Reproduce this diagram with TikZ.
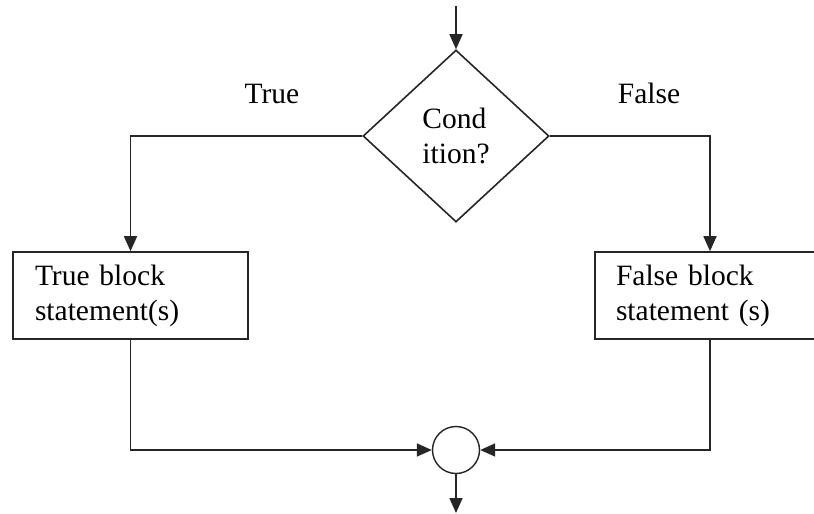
\documentclass[tikz,border=0pt]{standalone}
\usepackage{fontspec}
\setmainfont{Liberation Serif}
\usetikzlibrary{shapes.geometric,arrows.meta}
\begin{document}
\begin{tikzpicture}[x=1pt,y=-1pt,
  txt/.style={font=\fontsize{29.5}{35}\selectfont},
  line/.style={line width=1.6pt, draw=black!85},
  arr/.style={line, -{Triangle[length=15pt,width=13pt]}},
  decision/.style={diamond, draw=black!85, line width=1.6pt, minimum width=186pt,
    minimum height=172pt, inner sep=0pt, align=left, txt},
  stmt/.style={draw=black!85, line width=1.6pt, minimum height=87pt,
    align=left, inner ysep=0pt, txt},
  joint/.style={circle, draw=black!85, line width=1.4pt, minimum size=47pt, inner sep=0pt},
  lbl/.style={txt, anchor=base}]
  \clip (0,0) rectangle (814,514);
  \fill[white] (0,0) rectangle (814,514);

  % decision and the two branches
  \node[decision] (cond) at (456,136) {Cond\\ition?};
  \node[stmt, text width=191pt, inner xsep=22pt] (tb) at (130.5,295.5)
    {True block\\statement(s)};
  \node[stmt, text width=188pt, inner xsep=21pt] (fb) at (710,295.5)
    {False block\\statement (s)};
  \node[joint] (join) at (456,450) {};

  % branch labels
  \node[lbl] (ltrue) at (272,103) {True};
  \node[lbl] (lfalse) at (649,103) {False};

  % entry and exit
  \coordinate (in) at (456,6);
  \coordinate (out) at (456,513);

  \draw[arr] (in) -- (cond.north);
  \draw[arr] (cond.west) -| (tb.north);
  \draw[arr] (cond.east) -| (fb.north);
  \draw[arr] (tb.south) |- (join.west);
  \draw[arr] (fb.south) |- (join.east);
  \draw[arr] (join.south) -- (out);
\end{tikzpicture}
\end{document}
